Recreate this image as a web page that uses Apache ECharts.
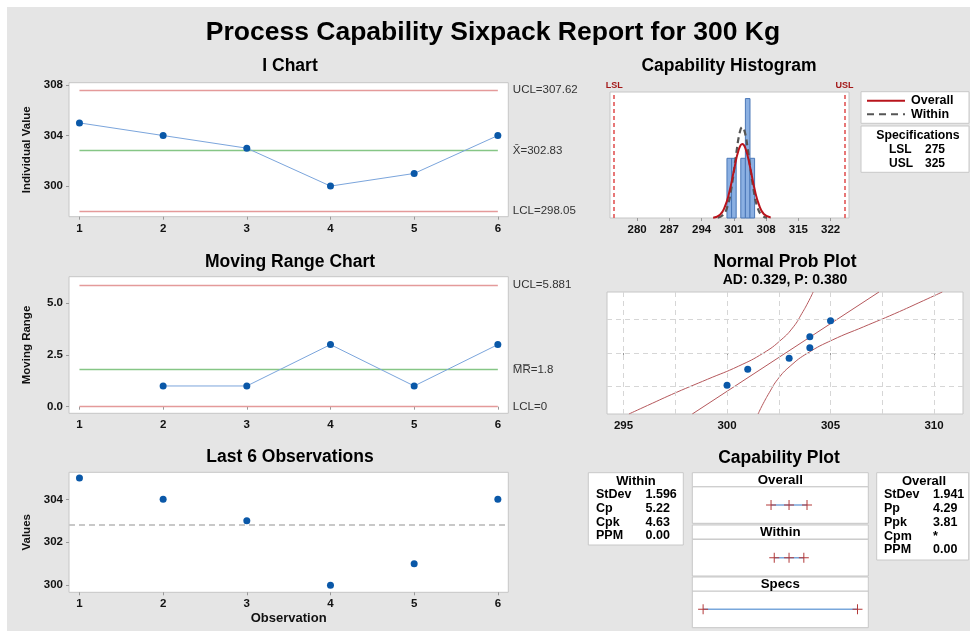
<!DOCTYPE html>
<html><head><meta charset="utf-8">
<script src="https://cdn.jsdelivr.net/npm/echarts@6.0.0/dist/echarts.min.js"></script>
<style>
html,body{margin:0;padding:0;background:#fff;}
#bg{position:absolute;left:7px;top:7px;width:963px;height:624px;background:#e5e5e5;}
#chart{position:absolute;left:0;top:0;width:970px;height:631px;}
</style></head><body>
<div id="bg"></div><div id="chart"></div>
<script>
// ---------- data ----------
const observations = [1, 2, 3, 4, 5, 6];
const values = [305, 304, 303, 300, 301, 304];
const movingRange = [null, 1, 1, 3, 1, 3];
const iLimits = [307.62, 302.83, 298.05];      // UCL, mean, LCL
const mrLimits = [5.881, 1.8, 0];              // UCL, MRbar, LCL
const iTicks = [300, 304, 308];
const mrTicks = [0, 2.5, 5];
const lastTicks = [300, 302, 304];
const histTicks = [280, 287, 294, 301, 308, 315, 322];
const probTicks = [295, 300, 305, 310];
const probGridX = [295, 297.5, 300, 302.5, 305, 307.5, 310];
const probGridZ = [-1.2816, 0, 1.2816];
const specLimits = [275, 325];
// histogram bins: [from, to, count]
const histBins = [[299.5, 300.5, 1], [300.5, 301.5, 1], [302.5, 303.5, 1], [303.5, 304.5, 2], [304.5, 305.5, 1]];
// fitted curves: [x, height in count units]
const overallCurve = [[296.5,0.006],[298,0.056],[299,0.18],[300,0.43],[301,0.79],[302,1.13],[302.83,1.24],[303.5,1.17],[304.5,0.86],[305.5,0.48],[306.5,0.21],[307.5,0.068],[309,0.008]];
const withinCurve = [[297.5,0.006],[298.5,0.04],[299.5,0.17],[300.5,0.52],[301.5,1.07],[302.3,1.44],[302.83,1.52],[303.4,1.43],[304.2,1.05],[305.2,0.51],[306.2,0.16],[307.2,0.036],[308.2,0.005]];
// normal probability plot: [x, z]
const probX = [300, 301, 303, 304, 304, 305];
const probZ = [-1.23, -0.62, -0.2, 0.2, 0.62, 1.23];
const fitLine = [[298.32, -2.326], [307.34, 2.326]];
const bandLow = [[295.26,-2.326],[296.16,-2],[297.56,-1.5],[299.06,-1],[300.56,-0.5],[301.76,0],[302.61,0.5],[303.21,1],[303.61,1.5],[303.96,2],[304.16,2.326]];
const bandHigh = [[301.5,-2.326],[301.7,-2],[302.05,-1.5],[302.45,-1],[303.05,-0.5],[303.9,0],[305.1,0.5],[306.6,1],[308.1,1.5],[309.5,2],[310.4,2.326]];
// capability plot intervals
const capOverall = [297.0, 302.83, 308.65];
const capWithin = [298.04, 302.83, 307.62];
const capSpecs = [275, 325];
const withinStats = [["StDev", "1.596"], ["Cp", "5.22"], ["Cpk", "4.63"], ["PPM", "0.00"]];
const overallStats = [["StDev", "1.941"], ["Pp", "4.29"], ["Ppk", "3.81"], ["Cpm", "*"], ["PPM", "0.00"]];
const specRows = [["LSL", "275"], ["USL", "325"]];

// ---------- helpers ----------
const FONT = '"Liberation Sans", Arial, sans-serif';
const chart = echarts.init(document.getElementById('chart'), null, {renderer: 'canvas'});
function T(x, y, text, size, weight, align, color) {
  return {type: 'text', x: x, y: y, silent: true, z: 50,
    style: {text: text, fontSize: size, fontWeight: weight || 'normal', fontFamily: FONT,
      fill: color || '#000', textAlign: align || 'center', textVerticalAlign: 'middle'}};
}
function R(x, y, w, h) {
  return {type: 'rect', z: 40, silent: true, shape: {x: x, y: y, width: w, height: h},
    style: {fill: '#fff', stroke: '#c8c8c8', lineWidth: 1}};
}
function L(x1, y1, x2, y2, color, dash) {
  return {type: 'line', z: 50, silent: true, shape: {x1: x1, y1: y1, x2: x2, y2: y2},
    style: {stroke: color, lineWidth: 2, lineDash: dash || null}};
}
const gridBase = {show: true, backgroundColor: '#fff', borderColor: '#c6c6c6', borderWidth: 1, containLabel: false};
const tickLabel = {fontSize: 11.5, fontWeight: 'bold', color: '#111', fontFamily: FONT};
function valAxis(grid, min, max, ticks, extra) {
  return Object.assign({
    type: 'value', gridIndex: grid, min: min, max: max,
    axisLine: {show: false}, splitLine: {show: false},
    axisTick: {show: true, length: 3, lineStyle: {color: '#999'}, customValues: ticks},
    axisLabel: Object.assign({customValues: ticks, margin: 6}, tickLabel)
  }, extra || {});
}
const hidden = (grid, min, max) => ({type: 'value', gridIndex: grid, min: min, max: max, show: false, splitLine: {show: false}});
const nameStyle = {fontSize: 11.5, fontWeight: 'bold', color: '#111', fontFamily: FONT};
const dot = {color: '#0a58a8', opacity: 1};

function ctrlLines(lims, labels, x0, x1) {
  const colors = ['#e49a9a', '#86c686', '#e49a9a'];
  return lims.map((v, i) => [
    {coord: [x0, v], lineStyle: {color: colors[i], width: 1.3, type: 'solid'},
     label: {show: true, position: 'end', formatter: labels[i], distance: 15, color: '#333', fontSize: 11.5, fontFamily: FONT}},
    {coord: [x1, v]}
  ]);
}
const pairs = (xs, ys) => xs.map((x, i) => [x, ys[i]]).filter(p => p[1] !== null);
const plusPath = 'path://M4.5,0h1v4.5h4.5v1h-4.5v4.5h-1v-4.5h-4.5v-1h4.5z';

const option = {
  animation: false,
  grid: [
    Object.assign({left: 69, top: 82.7, width: 439.3, height: 134}, gridBase),
    Object.assign({left: 69, top: 276.7, width: 439.3, height: 136.6}, gridBase),
    Object.assign({left: 69, top: 472.3, width: 439.3, height: 120}, gridBase),
    Object.assign({left: 610, top: 92, width: 239, height: 126}, gridBase),
    Object.assign({left: 607, top: 292, width: 356, height: 122}, gridBase),
    Object.assign({left: 692.3, top: 486.7, width: 176, height: 36.6}, gridBase),
    Object.assign({left: 692.3, top: 539.3, width: 176, height: 36.7}, gridBase),
    Object.assign({left: 692.3, top: 591, width: 176, height: 36.7}, gridBase)
  ],
  xAxis: [
    valAxis(0, 0.875, 6.125, observations),
    valAxis(1, 0.875, 6.125, observations),
    valAxis(2, 0.875, 6.125, observations, {name: 'Observation', nameLocation: 'middle', nameGap: 20,
      nameTextStyle: Object.assign({}, nameStyle, {fontSize: 13})}),
    valAxis(3, 274.1, 326, histTicks),
    valAxis(4, 294.2, 311.4, probTicks),
    hidden(5, 271.5, 328.5), hidden(6, 271.5, 328.5), hidden(7, 271.5, 328.5)
  ],
  yAxis: [
    valAxis(0, 297.58, 308.18, iTicks, {name: 'Individual Value', nameLocation: 'middle', nameGap: 36, nameTextStyle: nameStyle}),
    valAxis(1, -0.32, 6.28, mrTicks, {name: 'Moving Range', nameLocation: 'middle', nameGap: 36, nameTextStyle: nameStyle,
      axisLabel: Object.assign({customValues: mrTicks, margin: 6, formatter: v => v.toFixed(1)}, tickLabel)}),
    valAxis(2, 299.67, 305.26, lastTicks, {name: 'Values', nameLocation: 'middle', nameGap: 36, nameTextStyle: nameStyle}),
    hidden(3, 0, 2.11),
    hidden(4, -2.326, 2.326),
    hidden(5, 0, 1), hidden(6, 0, 1), hidden(7, 0, 1)
  ],
  series: [
    {type: 'line', xAxisIndex: 0, yAxisIndex: 0, data: pairs(observations, values),
      lineStyle: {color: '#7ba5dc', width: 1}, symbol: 'circle', symbolSize: 7, itemStyle: dot, z: 5,
      markLine: {silent: true, symbol: 'none', data: ctrlLines(iLimits, ['UCL=307.62', 'X\u0304=302.83', 'LCL=298.05'], 1, 6)}},
    {type: 'line', xAxisIndex: 1, yAxisIndex: 1, data: pairs(observations, movingRange),
      lineStyle: {color: '#7ba5dc', width: 1}, symbol: 'circle', symbolSize: 7, itemStyle: dot, z: 5,
      markLine: {silent: true, symbol: 'none', data: ctrlLines(mrLimits, ['UCL=5.881', 'M\u0305R\u0305=1.8', 'LCL=0'], 1, 6)}},
    {type: 'scatter', xAxisIndex: 2, yAxisIndex: 2, data: pairs(observations, values),
      symbolSize: 7, itemStyle: dot, z: 5,
      markLine: {silent: true, symbol: 'none', label: {show: false},
        lineStyle: {color: '#c8c8c8', width: 2, type: [6, 4]}, data: [{yAxis: iLimits[1]}]}},
    {type: 'custom', xAxisIndex: 3, yAxisIndex: 3, data: histBins, encode: {x: [0, 1], y: 2},
      renderItem: function (params, api) {
        const a = api.coord([api.value(0), api.value(2)]);
        const b = api.coord([api.value(1), 0]);
        return {type: 'rect', shape: {x: a[0], y: a[1], width: b[0] - a[0], height: b[1] - a[1]},
          style: {fill: '#8bb0e2', stroke: '#4a78b8', lineWidth: 1}};
      },
      markLine: {silent: true, symbol: 'none',
        lineStyle: {color: '#e25555', width: 1.6, type: [4, 3]},
        label: {show: true, position: 'end', distance: 2, color: '#a41818', fontSize: 9, fontWeight: 'bold', fontFamily: FONT},
        data: [{xAxis: specLimits[0], label: {formatter: 'LSL'}}, {xAxis: specLimits[1], label: {formatter: 'USL'}}]}},
    {type: 'line', xAxisIndex: 3, yAxisIndex: 3, data: withinCurve, smooth: true, showSymbol: false, z: 6,
      lineStyle: {color: '#555', width: 2.2, type: [6, 4]}},
    {type: 'line', xAxisIndex: 3, yAxisIndex: 3, data: overallCurve, smooth: true, showSymbol: false, z: 7,
      lineStyle: {color: '#b8141c', width: 2}},
    {type: 'line', xAxisIndex: 4, yAxisIndex: 4, data: [],
      markLine: {silent: true, symbol: 'none', label: {show: false},
        lineStyle: {color: '#d6d6d6', width: 1, type: [5, 4]},
        data: probGridX.map(v => ({xAxis: v})).concat(probGridZ.map(v => ({yAxis: v})))}},
    {type: 'line', xAxisIndex: 4, yAxisIndex: 4, data: bandLow, smooth: true, showSymbol: false,
      lineStyle: {color: '#b5585c', width: 1}},
    {type: 'line', xAxisIndex: 4, yAxisIndex: 4, data: bandHigh, smooth: true, showSymbol: false,
      lineStyle: {color: '#b5585c', width: 1}},
    {type: 'line', xAxisIndex: 4, yAxisIndex: 4, data: fitLine, showSymbol: false,
      lineStyle: {color: '#b5585c', width: 1}},
    {type: 'scatter', xAxisIndex: 4, yAxisIndex: 4, data: pairs(probX, probZ), symbolSize: 7,
      itemStyle: dot, z: 8},
    {type: 'line', xAxisIndex: 5, yAxisIndex: 5, data: capOverall.map(v => [v, 0.5]),
      lineStyle: {color: '#79a7db', width: 1.5}, symbol: plusPath, symbolSize: 10, itemStyle: {color: '#b33a3a'}},
    {type: 'line', xAxisIndex: 6, yAxisIndex: 6, data: capWithin.map(v => [v, 0.5]),
      lineStyle: {color: '#79a7db', width: 1.5}, symbol: plusPath, symbolSize: 10, itemStyle: {color: '#b33a3a'}},
    {type: 'line', xAxisIndex: 7, yAxisIndex: 7, data: capSpecs.map(v => [v, 0.5]),
      lineStyle: {color: '#79a7db', width: 1.5}, symbol: plusPath, symbolSize: 10, itemStyle: {color: '#b33a3a'}}
  ],
  graphic: []
};

const g = [];
const ST = 17.5;
g.push(T(493, 33, 'Process Capability Sixpack Report for 300 Kg', 26.5, 'bold'));
g.push(T(290, 66, 'I Chart', ST, 'bold'));
g.push(T(729, 66, 'Capability Histogram', ST, 'bold'));
g.push(T(290, 262, 'Moving Range Chart', ST, 'bold'));
g.push(T(785, 262, 'Normal Prob Plot', ST, 'bold'));
g.push(T(785, 280, 'AD: 0.329, P: 0.380', 14, 'bold'));
g.push(T(290, 457, 'Last 6 Observations', ST, 'bold'));
g.push(T(779, 458, 'Capability Plot', ST, 'bold'));
// histogram legend
g.push(R(861, 91.7, 108, 31.6));
g.push(L(867, 100.7, 905, 100.7, '#b8141c'));
g.push(L(867, 114.3, 905, 114.3, '#555', [7, 5]));
g.push(T(911, 100.7, 'Overall', 12.5, 'bold', 'left'));
g.push(T(911, 114.3, 'Within', 12.5, 'bold', 'left'));
g.push(R(861, 126, 108, 46.3));
g.push(T(918, 135.5, 'Specifications', 12.3, 'bold'));
specRows.forEach((r, i) => {
  g.push(T(889, 149.3 + i * 14, r[0], 12, 'bold', 'left'));
  g.push(T(925, 149.3 + i * 14, r[1], 12, 'bold', 'left'));
});
// stats tables
g.push(R(588.3, 472.7, 95, 72.3));
g.push(T(636, 481, 'Within', 13, 'bold'));
withinStats.forEach((r, i) => {
  g.push(T(596, 495 + i * 13.6, r[0], 12.5, 'bold', 'left'));
  g.push(T(645.5, 495 + i * 13.6, r[1], 12.5, 'bold', 'left'));
});
g.push(R(876.7, 472.7, 92, 87.3));
g.push(T(924, 481, 'Overall', 13, 'bold'));
overallStats.forEach((r, i) => {
  g.push(T(884, 495 + i * 13.75, r[0], 12.5, 'bold', 'left'));
  g.push(T(933, 495 + i * 13.75, r[1], 12.5, 'bold', 'left'));
});
// capability plot headers
[[472.7, 'Overall'], [525, 'Within'], [577, 'Specs']].forEach(h => {
  g.push(R(692.3, h[0], 176, 14));
  g.push(T(780.3, h[0] + 7.3, h[1], 13.3, 'bold'));
});
option.graphic = g;
chart.setOption(option);
</script></body></html>
